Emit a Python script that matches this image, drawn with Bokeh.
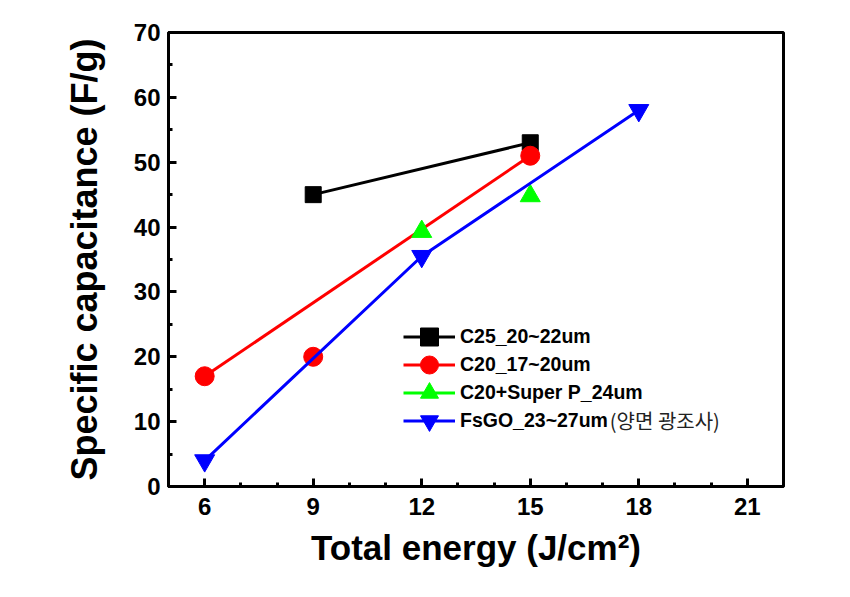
from bokeh.plotting import figure
from bokeh.models import (Range1d, SingleIntervalTicker, Legend, LegendItem, Label)
from bokeh.embed import file_html
from bokeh.resources import INLINE

# ---- data ----
black_x = [9, 15]
black_y = [45, 53]
red_x = [6, 9, 15]
red_y = [17, 20, 51]
red_line_x = [6, 15]
red_line_y = [17, 51]
green_x = [12, 15]
green_y = [39.3, 44.8]
blue_x = [6, 12, 18]
blue_y = [4, 35.5, 58]

labels = ["C25_20~22um", "C20_17~20um", "C20+Super P_24um", "FsGO_23~27um"]
korean_note = "(양면 광조사)"
x_title = "Total energy (J/cm²)"
y_title = "Specific capacitance (F/g)"

FONT = "Liberation Sans"

p = figure(width=842, height=589, output_backend="svg", toolbar_location=None,
           x_range=Range1d(5, 22), y_range=Range1d(0, 70),
           min_border_left=168, min_border_right=59, min_border_top=32, min_border_bottom=103)
p.background_fill_color = "white"
p.border_fill_color = "white"
p.xgrid.visible = False
p.ygrid.visible = False
p.outline_line_color = "black"
p.outline_line_width = 3

p.xaxis.ticker = SingleIntervalTicker(interval=3, num_minor_ticks=3)
p.yaxis.ticker = SingleIntervalTicker(interval=10, num_minor_ticks=2)

for ax in (p.xaxis[0], p.yaxis[0]):
    ax.axis_line_width = 3
    ax.major_tick_line_width = 3
    ax.minor_tick_line_width = 3
    ax.major_tick_in = 8
    ax.major_tick_out = 0
    ax.minor_tick_in = 4
    ax.minor_tick_out = 0
    ax.major_label_text_font = FONT
    ax.major_label_text_font_style = "bold"
    ax.major_label_text_font_size = "24px"
    ax.major_label_text_color = "black"
    ax.axis_label_text_font = FONT
    ax.axis_label_text_font_style = "bold"
    ax.axis_label_text_color = "black"

p.xaxis.axis_label = x_title
p.yaxis.axis_label = y_title
p.xaxis.axis_label_text_font_size = "35px"
p.yaxis.axis_label_text_font_size = "36px"
p.xaxis.major_label_standoff = 11
p.yaxis.major_label_standoff = 8
p.xaxis.axis_label_standoff = 10
p.yaxis.axis_label_standoff = 26

# ---- series ----
bl = p.line(black_x, black_y, line_color="black", line_width=3)
bs = p.scatter(black_x, black_y, marker="square", size=16, fill_color="black", line_color="black")

rl = p.line(red_line_x, red_line_y, line_color="#ff0000", line_width=3)
rs = p.scatter(red_x, red_y, marker="circle", size=19, fill_color="#ff0000", line_color="#ff0000")

gl = p.line([float("nan")], [float("nan")], line_color="#00ff00", line_width=3)
gs = p.scatter(green_x, green_y, marker="triangle", size=20, fill_color="#00ff00", line_color="#00ff00")

bll = p.line(blue_x, blue_y, line_color="#0000ff", line_width=3)
bls = p.scatter(blue_x, blue_y, marker="inverted_triangle", size=20, fill_color="#0000ff", line_color="#0000ff")

# one legend per row so that the row pitch can be tighter than the marker box
row_bottoms = [127, 99.5, 71.5, 43.5]
row_renderers = [[bl, bs], [rl, rs], [gl, gs], [bll, bls]]
for lab, rends, yb in zip(labels, row_renderers, row_bottoms):
    lg = Legend(items=[LegendItem(label=lab, renderers=rends)], location=(235, yb))
    lg.padding = 0
    lg.margin = 0
    lg.spacing = 0
    lg.border_line_alpha = 0
    lg.background_fill_alpha = 0
    lg.glyph_width = 52
    lg.glyph_height = 45
    lg.label_height = 28
    lg.label_standoff = 5
    lg.label_text_font = FONT
    lg.label_text_font_style = "bold"
    lg.label_text_font_size = "19.5px"
    lg.label_text_color = "black"
    lg.label_text_baseline = "middle"
    p.add_layout(lg, "center")

note = Label(x=17.2, y=10.17, text=korean_note, text_font="Noto Sans CJK KR",
             text_font_size="20px", text_color="#222222", text_baseline="middle")
p.add_layout(note)

open("out.html", "w").write(file_html(p, INLINE))
